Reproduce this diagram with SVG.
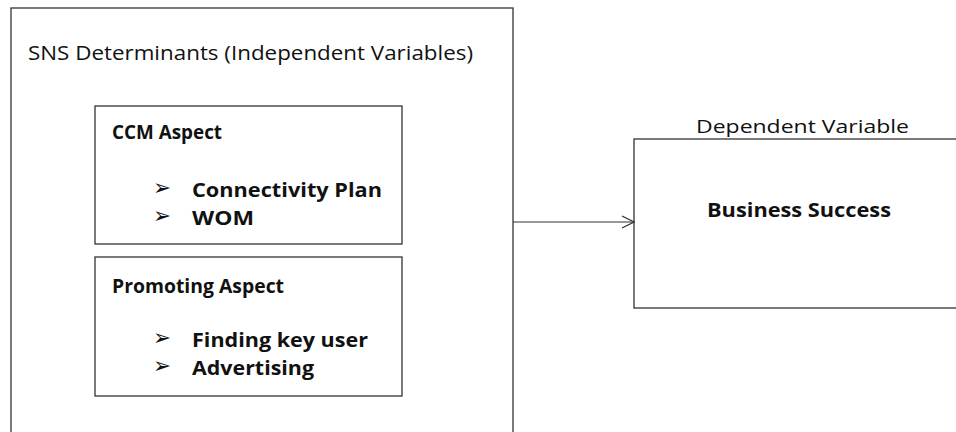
<svg xmlns="http://www.w3.org/2000/svg" width="956" height="432" viewBox="0 0 956 432">
<style>
.box{fill:#fff;stroke:#333;stroke-width:1.3}
.t{font-family:"Open Sans","Liberation Sans",sans-serif;fill:#111}
.b{font-family:"Open Sans","Liberation Sans",sans-serif;font-weight:bold;fill:#111}
.bul{font-family:"DejaVu Sans",sans-serif;fill:#111;font-size:22px}
</style>
<defs>
<marker id="arr" markerWidth="14" markerHeight="14" refX="13" refY="7" orient="auto" markerUnits="userSpaceOnUse">
<path d="M1,1 L13,7 L1,13" fill="none" stroke="#333" stroke-width="1.2"/>
</marker>
</defs>
<rect width="956" height="432" fill="#fff"/>
<g id="outer">
<rect class="box" x="11" y="8" width="502" height="440"/>
<text class="t" x="28" y="60" font-size="20" textLength="445" lengthAdjust="spacingAndGlyphs">SNS Determinants (Independent Variables)</text>
</g>
<g id="ccm">
<rect class="box" x="95" y="106" width="307" height="138"/>
<text class="b" x="112" y="139" font-size="20" textLength="110" lengthAdjust="spacingAndGlyphs">CCM Aspect</text>
<text class="bul" x="153" y="195" textLength="18" lengthAdjust="spacingAndGlyphs">➢</text>
<text class="b" x="192" y="197" font-size="20" textLength="190" lengthAdjust="spacingAndGlyphs">Connectivity Plan</text>
<text class="bul" x="153" y="223" textLength="18" lengthAdjust="spacingAndGlyphs">➢</text>
<text class="b" x="192" y="225" font-size="20" textLength="62" lengthAdjust="spacingAndGlyphs">WOM</text>
</g>
<g id="promoting">
<rect class="box" x="95" y="257" width="307" height="139"/>
<text class="b" x="112" y="293" font-size="20" textLength="172" lengthAdjust="spacingAndGlyphs">Promoting Aspect</text>
<text class="bul" x="153" y="345" textLength="18" lengthAdjust="spacingAndGlyphs">➢</text>
<text class="b" x="192" y="347" font-size="20" textLength="176" lengthAdjust="spacingAndGlyphs">Finding key user</text>
<text class="bul" x="153" y="373" textLength="18" lengthAdjust="spacingAndGlyphs">➢</text>
<text class="b" x="192" y="375" font-size="20" textLength="122" lengthAdjust="spacingAndGlyphs">Advertising</text>
</g>
<g id="business">
<text class="t" x="696" y="133" font-size="19" textLength="213" lengthAdjust="spacingAndGlyphs">Dependent Variable</text>
<rect class="box" x="634" y="139" width="340" height="169"/>
<text class="b" x="707" y="217" font-size="20" textLength="184" lengthAdjust="spacingAndGlyphs">Business Success</text>
</g>
<g id="connectors">
<line x1="513" y1="222" x2="634" y2="222" stroke="#333" stroke-width="1.2" marker-end="url(#arr)"/>
</g>
</svg>
